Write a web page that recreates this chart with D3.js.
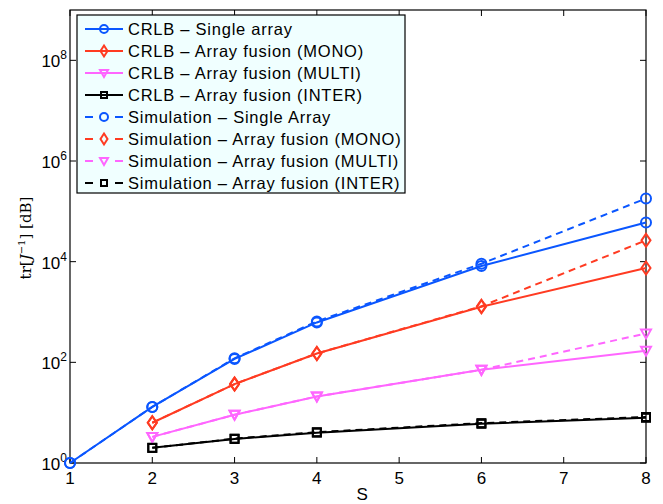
<!DOCTYPE html>
<html>
<head>
<meta charset="utf-8">
<script src="https://cdn.jsdelivr.net/npm/d3@7"></script>
<style>
body { margin: 0; background: #fff; }
text { font-family: "Liberation Sans", Arial, sans-serif; }
</style>
</head>
<body>
<script>
// S values
var sSingle = [1, 2, 3, 4, 6, 8];
var sFusion = [2, 3, 4, 6, 8];

// CRLB curves
var crlbSingle = [1, 13, 117, 620, 8200, 60000];
var crlbMono = [6.3, 37, 150, 1270, 7500];
var crlbMulti = [3.3, 9.1, 21, 71, 170];
var crlbInter = [2.0, 3.0, 4.0, 6.0, 7.9];

// simulation curves
var simSingle = [1, 13, 120, 650, 9100, 180000];
var simMono = [6.3, 37, 150, 1300, 26500];
var simMulti = [3.3, 9.1, 21, 71, 375];
var simInter = [2.0, 3.05, 4.1, 6.2, 8.2];

var xTicks = [1, 2, 3, 4, 5, 6, 7, 8];
var yTicks = [1, 1e2, 1e4, 1e6, 1e8];

var series = [
  {name: "CRLB \u2013 Single array", xs: sSingle, ys: crlbSingle, color: "#0a56ff", mark: "circle", dash: null},
  {name: "CRLB \u2013 Array fusion (MONO)", xs: sFusion, ys: crlbMono, color: "#ff3b22", mark: "diamond", dash: null},
  {name: "CRLB \u2013 Array fusion (MULTI)", xs: sFusion, ys: crlbMulti, color: "#ff66ff", mark: "tri", dash: null},
  {name: "CRLB \u2013 Array fusion (INTER)", xs: sFusion, ys: crlbInter, color: "#000000", mark: "square", dash: null},
  {name: "Simulation \u2013 Single Array", xs: sSingle, ys: simSingle, color: "#0a56ff", mark: "circle", dash: "7,5"},
  {name: "Simulation \u2013 Array fusion (MONO)", xs: sFusion, ys: simMono, color: "#ff3b22", mark: "diamond", dash: "7,5"},
  {name: "Simulation \u2013 Array fusion (MULTI)", xs: sFusion, ys: simMulti, color: "#ff66ff", mark: "tri", dash: "7,5"},
  {name: "Simulation \u2013 Array fusion (INTER)", xs: sFusion, ys: simInter, color: "#000000", mark: "square", dash: "7,5"}
];

var W = 663, H = 504;
var m = {left: 70, right: 17, top: 10, bottom: 41};
var pw = W - m.left - m.right, ph = H - m.top - m.bottom;

var svg = d3.select("body").append("svg")
  .attr("width", W)
  .attr("height", H);

var x = d3.scaleLinear().domain([1, 8]).range([0, pw]);
var y = d3.scaleLog().domain([1, 1e9]).range([ph, 0]);

var g = svg.append("g").attr("transform", "translate(" + m.left + "," + m.top + ")");

// ticks (inward, all four sides)
var tl = 6;
xTicks.forEach(function(t) {
  g.append("line").attr("x1", x(t)).attr("x2", x(t)).attr("y1", ph).attr("y2", ph - tl).attr("stroke", "#000");
  g.append("line").attr("x1", x(t)).attr("x2", x(t)).attr("y1", 0).attr("y2", tl).attr("stroke", "#000");
  g.append("text").attr("x", x(t)).attr("y", ph + 20.5).attr("text-anchor", "middle")
    .attr("font-size", 17).text(t);
});
yTicks.forEach(function(t) {
  g.append("line").attr("x1", 0).attr("x2", tl).attr("y1", y(t)).attr("y2", y(t)).attr("stroke", "#000");
  g.append("line").attr("x1", pw).attr("x2", pw - tl).attr("y1", y(t)).attr("y2", y(t)).attr("stroke", "#000");
  var lab = g.append("text").attr("x", -3).attr("y", y(t) + 7).attr("text-anchor", "end").attr("font-size", 17);
  lab.append("tspan").text("10");
  lab.append("tspan").attr("dy", -8).attr("font-size", 12).text(Math.round(Math.log10(t)));
});

// frame
g.append("rect").attr("width", pw).attr("height", ph)
  .attr("fill", "none").attr("stroke", "#000").attr("stroke-width", 1.2);

function drawMark(sel, type, color, cx, cy, r) {
  if (type === "circle") {
    sel.append("circle").attr("cx", cx).attr("cy", cy).attr("r", r)
      .attr("fill", "none").attr("stroke", color).attr("stroke-width", 2);
  } else if (type === "diamond") {
    sel.append("path").attr("d", "M" + cx + "," + (cy - r - 1.5) + "L" + (cx + r - 0.5) + "," + cy + "L" + cx + "," + (cy + r + 1.5) + "L" + (cx - r + 0.5) + "," + cy + "Z")
      .attr("fill", "none").attr("stroke", color).attr("stroke-width", 2);
  } else if (type === "tri") {
    sel.append("path").attr("d", "M" + (cx - r) + "," + (cy - r + 1) + "L" + (cx + r) + "," + (cy - r + 1) + "L" + cx + "," + (cy + r) + "Z")
      .attr("fill", "none").attr("stroke", color).attr("stroke-width", 2);
  } else {
    sel.append("rect").attr("x", cx - r + 1).attr("y", cy - r + 1).attr("width", 2 * r - 2).attr("height", 2 * r - 2)
      .attr("fill", "none").attr("stroke", color).attr("stroke-width", 2);
  }
}

var line = d3.line().x(function(d) { return x(d[0]); }).y(function(d) { return y(d[1]); });

// draw simulation (dashed) under CRLB
var order = [4, 5, 6, 7, 0, 1, 2, 3];
order.forEach(function(i) {
  var s = series[i];
  var pts = s.xs.map(function(v, k) { return [v, s.ys[k]]; });
  g.append("path").datum(pts).attr("d", line)
    .attr("fill", "none").attr("stroke", s.color).attr("stroke-width", 2)
    .attr("stroke-dasharray", s.dash);
  pts.forEach(function(p) {
    drawMark(g, s.mark, s.color, x(p[0]), y(p[1]), 5);
  });
});

// legend
var lg = svg.append("g").attr("transform", "translate(77,15)");
lg.append("rect").attr("width", 328).attr("height", 178)
  .attr("fill", "#f0ffff").attr("stroke", "#000").attr("stroke-width", 1.2);
series.forEach(function(s, i) {
  var yy = 14 + i * 22;
  if (s.dash) {
    lg.append("line").attr("x1", 8).attr("x2", 16).attr("y1", yy).attr("y2", yy)
      .attr("stroke", s.color).attr("stroke-width", 2);
    lg.append("line").attr("x1", 38).attr("x2", 46).attr("y1", yy).attr("y2", yy)
      .attr("stroke", s.color).attr("stroke-width", 2);
  } else {
    lg.append("line").attr("x1", 8).attr("x2", 46).attr("y1", yy).attr("y2", yy)
      .attr("stroke", s.color).attr("stroke-width", 2);
  }
  drawMark(lg, s.mark, s.color, 27, yy, 4);
  lg.append("text").attr("x", 51).attr("y", yy + 6).attr("font-size", 16.5)
    .attr("letter-spacing", 0.75).text(s.name);
});

// axis labels
svg.append("text").attr("x", m.left + x(4.55)).attr("y", 500).attr("text-anchor", "middle")
  .attr("font-size", 17).text("S");
var yl = svg.append("text").attr("transform", "translate(31," + 238 + ") rotate(-90)")
  .attr("text-anchor", "middle").attr("font-size", 15)
  .style("font-family", "'DejaVu Serif', 'Liberation Serif', serif");
yl.append("tspan").text("tr[");
yl.append("tspan").attr("font-style", "italic").text("J");
yl.append("tspan").attr("dy", -6).attr("font-size", 10).text("\u22121");
yl.append("tspan").attr("dy", 6).text("] [dB]");
</script>
</body>
</html>
